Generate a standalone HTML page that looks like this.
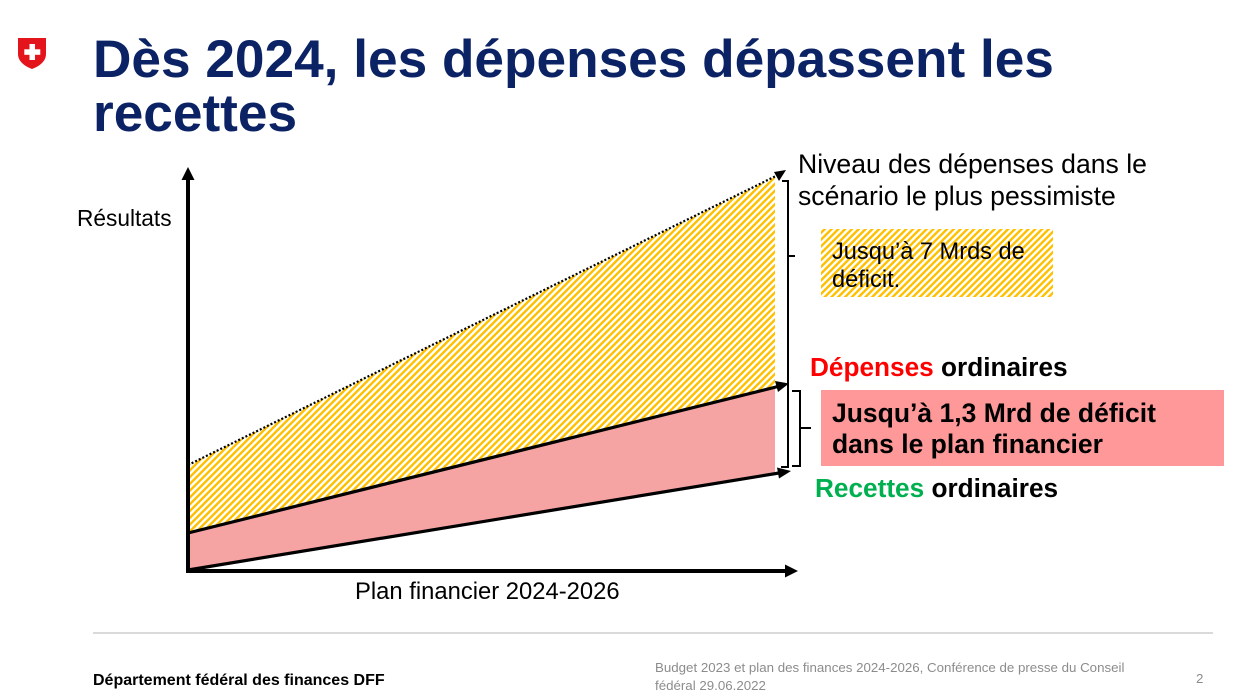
<!DOCTYPE html>
<html>
<head>
<meta charset="utf-8">
<style>
html,body{margin:0;padding:0;background:#fff;}
body{width:1233px;height:697px;overflow:hidden;position:relative;font-family:"Liberation Sans",Arial,sans-serif;}
svg{position:absolute;left:0;top:0;}
</style>
</head>
<body>
<svg width="1233" height="697" viewBox="0 0 1233 697" xmlns="http://www.w3.org/2000/svg">
  <defs>
    <pattern id="hatch" patternUnits="userSpaceOnUse" width="4.8" height="4.8" patternTransform="rotate(45)">
      <rect x="0" y="0" width="4.8" height="4.8" fill="#ffffff"/>
      <rect x="0" y="0" width="2.4" height="4.8" fill="#ffc000"/>
    </pattern>
  </defs>

  <!-- Swiss shield -->
  <path d="M18,38 L46,38 L46,54 C46,61 40,66 32,69 C24,66 18,61 18,54 Z" fill="#e3141b"/>
  <rect x="29.5" y="44" width="5.5" height="16" fill="#fff"/>
  <rect x="24.3" y="49.3" width="16" height="5.5" fill="#fff"/>

  <!-- Title -->
  <text x="93" y="77" font-size="53.2" font-weight="bold" fill="#0b2265">Dès 2024, les dépenses dépassent les</text>
  <text x="93" y="131" font-size="53.2" font-weight="bold" fill="#0b2265">recettes</text>

  <!-- Hatched area -->
  <polygon points="188,465 775,177 775,388 188,533" fill="url(#hatch)"/>
  <!-- Pink area -->
  <polygon points="188,533 775,388 775,472 188,570" fill="#f5a3a3"/>

  <!-- Dotted line -->
  <line x1="188" y1="465" x2="778" y2="175" stroke="#000" stroke-width="2.2" stroke-dasharray="2,2"/>
  <polygon points="786,170 774,172 779,181" fill="#000"/>

  <!-- Dépenses line -->
  <line x1="188" y1="533" x2="778" y2="386.5" stroke="#000" stroke-width="3.2"/>
  <polygon points="789,383.5 775,381 778,392" fill="#000"/>

  <!-- Recettes line -->
  <line x1="188" y1="570" x2="779" y2="473" stroke="#000" stroke-width="3.2"/>
  <polygon points="791,471 777,467.5 779,478.5" fill="#000"/>

  <!-- Axes -->
  <line x1="188" y1="573" x2="188" y2="178" stroke="#000" stroke-width="4"/>
  <polygon points="188,167 181.5,180 194.5,180" fill="#000"/>
  <line x1="186" y1="571" x2="786" y2="571" stroke="#000" stroke-width="4"/>
  <polygon points="798,571 785,564.5 785,577.5" fill="#000"/>

  <!-- Big bracket -->
  <path d="M782,181 L788,181 L788,467 L781,467 M788,256 L795,256" fill="none" stroke="#000" stroke-width="2"/>
  <!-- Small bracket -->
  <path d="M792,391 L800,391 L800,466 L792,466 M800,428 L811,428" fill="none" stroke="#000" stroke-width="2"/>

  <!-- Axis labels -->
  <text x="77" y="226" font-size="22.7" fill="#000">Résultats</text>
  <text x="355" y="599" font-size="23.8" fill="#000">Plan financier 2024-2026</text>

  <!-- Right annotations -->
  <text x="798" y="173" font-size="26.6" fill="#000">Niveau des dépenses dans le</text>
  <text x="798" y="205" font-size="26.6" fill="#000">scénario le plus pessimiste</text>

  <rect x="821" y="229" width="232" height="68" fill="url(#hatch)"/>
  <text x="832" y="259" font-size="23.6" fill="#000">Jusqu’à 7 Mrds de</text>
  <text x="832" y="287" font-size="23.6" fill="#000">déficit.</text>

  <text x="810" y="376" font-size="26.2" font-weight="bold"><tspan fill="#ff0000">Dépenses</tspan><tspan fill="#000"> ordinaires</tspan></text>

  <rect x="821" y="390" width="403" height="76" fill="#ff9999"/>
  <text x="832" y="422" font-size="26.5" font-weight="bold" fill="#000">Jusqu’à 1,3 Mrd de déficit</text>
  <text x="832" y="453" font-size="26.5" font-weight="bold" fill="#000">dans le plan financier</text>

  <text x="815" y="497" font-size="26.2" font-weight="bold"><tspan fill="#00b050">Recettes</tspan><tspan fill="#000"> ordinaires</tspan></text>

  <!-- Footer -->
  <line x1="93" y1="633" x2="1213" y2="633" stroke="#c4c4c4" stroke-width="1.2"/>
  <text x="93" y="685" font-size="16" font-weight="bold" fill="#000">Département fédéral des finances DFF</text>
  <text x="655" y="672" font-size="13.3" fill="#8c8c8c">Budget 2023 et plan des finances 2024-2026, Conférence de presse du Conseil</text>
  <text x="655" y="690" font-size="13.3" fill="#8c8c8c">fédéral 29.06.2022</text>
  <text x="1196" y="683" font-size="13.3" fill="#8c8c8c">2</text>
</svg>
</body>
</html>
